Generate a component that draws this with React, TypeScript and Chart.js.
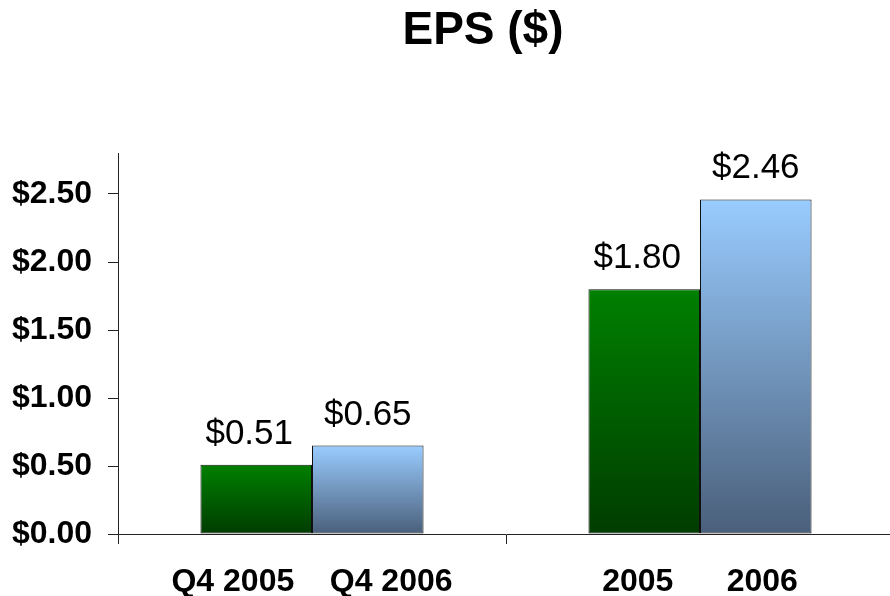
import React, { useEffect, useRef } from "react";
import { Chart, registerables } from "chart.js";

Chart.register(...registerables);

const categories = ["Q4 2005    Q4 2006", "2005      2006"];
const earlierValues = [0.51, 1.8];
const laterValues = [0.65, 2.46];
const yTickValues = [0, 0.5, 1, 1.5, 2, 2.5];
const chartTitle = "EPS ($)";

const FONT = '"Liberation Sans", Arial, Helvetica, sans-serif';

function gradientFill(top: string, bottom: string) {
  return (ctx: any) => {
    const chart = ctx.chart;
    if (!chart.chartArea || ctx.type !== "data") return top;
    const y = chart.scales.y;
    const y0 = y.getPixelForValue(ctx.raw);
    const y1 = y.getPixelForValue(0);
    const g = chart.ctx.createLinearGradient(0, y0, 0, y1);
    g.addColorStop(0, top);
    g.addColorStop(1, bottom);
    return g;
  };
}

const valueLabels = {
  id: "valueLabels",
  afterDatasetsDraw(chart: any, _args: any, opts: any) {
    const ctx = chart.ctx;
    chart.data.datasets.forEach((ds: any, i: number) => {
      const meta = chart.getDatasetMeta(i);
      meta.data.forEach((bar: any, j: number) => {
        const v = ds.data[j];
        ctx.save();
        ctx.font = `35px ${FONT}`;
        ctx.fillStyle = "#000";
        ctx.textAlign = "center";
        ctx.textBaseline = "alphabetic";
        ctx.fillText("$" + v.toFixed(2), bar.x + (opts.shifts?.[i] || 0), bar.y - 21);
        ctx.restore();
      });
    });
  },
};

export default function App() {
  const ref = useRef<HTMLCanvasElement>(null);
  useEffect(() => {
    if (!ref.current) return;
    const chart = new Chart(ref.current, {
      type: "bar",
      data: {
        labels: categories,
        datasets: [
          {
            data: earlierValues,
            backgroundColor: gradientFill("#008000", "#003c00"),
            borderColor: "#111",
            borderWidth: 1,
            borderSkipped: false,
            categoryPercentage: 0.575,
            barPercentage: 1,
          },
          {
            data: laterValues,
            backgroundColor: gradientFill("#99ccff", "#4a5f7a"),
            borderColor: "#111",
            borderWidth: 1,
            borderSkipped: false,
            categoryPercentage: 0.575,
            barPercentage: 1,
          },
        ],
      },
      options: {
        responsive: false,
        animation: false,
        layout: { padding: 0 },
        plugins: {
          legend: { display: false },
          tooltip: { enabled: false },
          title: {
            display: true,
            text: chartTitle,
            color: "#000",
            font: { family: FONT, size: 46, weight: "bold" },
            padding: { top: 4, bottom: 94 },
          },
          valueLabels: { shifts: [-7, 0] },
        } as any,
        scales: {
          x: {
            afterFit: (s: any) => {
              s.height = 62;
            },
            grid: { drawOnChartArea: false, drawTicks: true, tickLength: 10, color: "#222", offset: true },
            border: { color: "#222", width: 1 },
            ticks: {
              color: "#000",
              font: { family: FONT, size: 32, weight: "bold" },
              padding: 19,
              autoSkip: false,
              maxRotation: 0,
            },
          },
          y: {
            min: 0,
            max: 2.8,
            afterFit: (s: any) => {
              s.width = 118;
            },
            afterBuildTicks: (s: any) => {
              s.ticks = yTickValues.map((v) => ({ value: v }));
            },
            grid: { drawOnChartArea: false, drawTicks: true, tickLength: 10, color: "#222" },
            border: { color: "#222", width: 1 },
            ticks: {
              color: "#000",
              font: { family: FONT, size: 32, weight: "bold" },
              padding: 16,
              callback: (v: any) => "$" + Number(v).toFixed(2),
            },
          },
          yRight: {
            position: "right",
            display: true,
            afterFit: (s: any) => {
              s.width = 72;
            },
            grid: { display: false },
            border: { display: false },
            ticks: { display: false },
          },
        },
      },
      plugins: [valueLabels],
    } as any);
    return () => chart.destroy();
  }, []);
  return (
    <div style={{ position: "absolute", left: 0, top: 0, width: 890, height: 596, overflow: "hidden", background: "#fff" }}>
      <canvas ref={ref} width={966} height={596} />
    </div>
  );
}
